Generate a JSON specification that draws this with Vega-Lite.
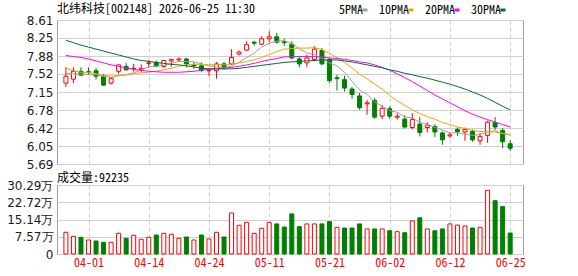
{
"$schema":"https://vega.github.io/schema/vega-lite/v6.json",
"background":"white",
"padding":{"left":0,"top":2,"right":0,"bottom":0},
"spacing":0,
"config":{
 "view":{"stroke":"#a0a0a0","strokeWidth":1},
 "axis":{"domain":false,"ticks":false,"gridColor":"#d0d0d0","gridWidth":1,"labelFont":"DejaVu Sans","labelFontSize":12,"labelColor":"#1a1a1a","title":null,"labelPadding":4,"labelOverlap":false},
 "title":{"font":"Noto Sans Mono CJK SC, Noto Sans CJK SC","fontSize":12,"fontWeight":"normal","color":"#000","anchor":"start","frame":"group"}
},
"datasets":{"k":[
{"i":0,"d":"03-27","o":7.33,"h":7.65,"l":7.25,"c":7.47,"v":9.53,"dir":"up","vdir":"up","ma5":7.53,"ma10":7.64,"ma20":7.89,"ma30":8.20},
{"i":1,"d":"03-30","o":7.41,"h":7.65,"l":7.33,"c":7.57,"v":7.77,"dir":"up","vdir":"up","ma5":7.52,"ma10":7.58,"ma20":7.87,"ma30":8.15},
{"i":2,"d":"03-31","o":7.57,"h":7.65,"l":7.47,"c":7.49,"v":7.33,"dir":"down","vdir":"down","ma5":7.51,"ma10":7.55,"ma20":7.85,"ma30":8.10},
{"i":3,"d":"04-01","o":7.56,"h":7.65,"l":7.50,"c":7.55,"v":6.15,"dir":"down","vdir":"up","ma5":7.50,"ma10":7.54,"ma20":7.82,"ma30":8.06},
{"i":4,"d":"04-02","o":7.58,"h":7.64,"l":7.40,"c":7.47,"v":5.71,"dir":"down","vdir":"down","ma5":7.50,"ma10":7.52,"ma20":7.78,"ma30":8.02},
{"i":5,"d":"04-03","o":7.47,"h":7.52,"l":7.27,"c":7.29,"v":5.13,"dir":"down","vdir":"down","ma5":7.47,"ma10":7.49,"ma20":7.74,"ma30":7.98},
{"i":6,"d":"04-07","o":7.33,"h":7.45,"l":7.30,"c":7.42,"v":5.13,"dir":"up","vdir":"up","ma5":7.44,"ma10":7.47,"ma20":7.70,"ma30":7.94},
{"i":7,"d":"04-08","o":7.57,"h":7.71,"l":7.52,"c":7.70,"v":9.09,"dir":"up","vdir":"up","ma5":7.48,"ma10":7.48,"ma20":7.67,"ma30":7.90},
{"i":8,"d":"04-09","o":7.67,"h":7.74,"l":7.58,"c":7.60,"v":6.89,"dir":"down","vdir":"down","ma5":7.50,"ma10":7.50,"ma20":7.64,"ma30":7.86},
{"i":9,"d":"04-10","o":7.62,"h":7.72,"l":7.56,"c":7.63,"v":8.2,"dir":"up","vdir":"up","ma5":7.54,"ma10":7.52,"ma20":7.61,"ma30":7.82},
{"i":10,"d":"04-13","o":7.61,"h":7.71,"l":7.54,"c":7.63,"v":6.45,"dir":"up","vdir":"up","ma5":7.60,"ma10":7.54,"ma20":7.59,"ma30":7.79},
{"i":11,"d":"04-14","o":7.73,"h":7.80,"l":7.64,"c":7.74,"v":7.33,"dir":"up","vdir":"up","ma5":7.66,"ma10":7.55,"ma20":7.57,"ma30":7.77},
{"i":12,"d":"04-15","o":7.75,"h":7.79,"l":7.65,"c":7.68,"v":8.34,"dir":"down","vdir":"down","ma5":7.67,"ma10":7.57,"ma20":7.56,"ma30":7.75},
{"i":13,"d":"04-16","o":7.67,"h":7.80,"l":7.64,"c":7.79,"v":9.09,"dir":"up","vdir":"up","ma5":7.69,"ma10":7.60,"ma20":7.55,"ma30":7.73},
{"i":14,"d":"04-17","o":7.78,"h":7.81,"l":7.66,"c":7.81,"v":8.65,"dir":"up","vdir":"up","ma5":7.73,"ma10":7.63,"ma20":7.55,"ma30":7.71},
{"i":15,"d":"04-20","o":7.80,"h":7.85,"l":7.76,"c":7.82,"v":6.89,"dir":"up","vdir":"up","ma5":7.77,"ma10":7.67,"ma20":7.55,"ma30":7.70},
{"i":16,"d":"04-21","o":7.82,"h":7.84,"l":7.65,"c":7.72,"v":7.46,"dir":"down","vdir":"down","ma5":7.77,"ma10":7.70,"ma20":7.56,"ma30":7.68},
{"i":17,"d":"04-22","o":7.70,"h":7.76,"l":7.62,"c":7.68,"v":6.15,"dir":"down","vdir":"up","ma5":7.76,"ma10":7.71,"ma20":7.57,"ma30":7.66},
{"i":18,"d":"04-23","o":7.68,"h":7.75,"l":7.55,"c":7.59,"v":8.34,"dir":"down","vdir":"down","ma5":7.72,"ma10":7.71,"ma20":7.59,"ma30":7.63},
{"i":19,"d":"04-24","o":7.58,"h":7.64,"l":7.47,"c":7.59,"v":6.59,"dir":"up","vdir":"up","ma5":7.68,"ma10":7.70,"ma20":7.61,"ma30":7.62},
{"i":20,"d":"04-27","o":7.58,"h":7.76,"l":7.42,"c":7.72,"v":9.53,"dir":"up","vdir":"up","ma5":7.66,"ma10":7.71,"ma20":7.62,"ma30":7.62},
{"i":21,"d":"04-28","o":7.72,"h":7.76,"l":7.60,"c":7.64,"v":7.46,"dir":"down","vdir":"down","ma5":7.64,"ma10":7.70,"ma20":7.63,"ma30":7.62},
{"i":22,"d":"04-29","o":7.72,"h":8.02,"l":7.70,"c":7.85,"v":18.0,"dir":"up","vdir":"up","ma5":7.68,"ma10":7.72,"ma20":7.65,"ma30":7.62},
{"i":23,"d":"04-30","o":7.92,"h":7.99,"l":7.89,"c":7.96,"v":12.6,"dir":"up","vdir":"up","ma5":7.75,"ma10":7.74,"ma20":7.67,"ma30":7.63},
{"i":24,"d":"05-06","o":8.00,"h":8.18,"l":7.98,"c":8.11,"v":13.9,"dir":"up","vdir":"up","ma5":7.85,"ma10":7.77,"ma20":7.70,"ma30":7.65},
{"i":25,"d":"05-07","o":8.16,"h":8.19,"l":8.09,"c":8.14,"v":9.09,"dir":"down","vdir":"up","ma5":7.94,"ma10":7.80,"ma20":7.73,"ma30":7.67},
{"i":26,"d":"05-08","o":8.12,"h":8.28,"l":8.10,"c":8.23,"v":11.3,"dir":"up","vdir":"up","ma5":8.06,"ma10":7.85,"ma20":7.77,"ma30":7.69},
{"i":27,"d":"05-11","o":8.23,"h":8.38,"l":8.16,"c":8.27,"v":13.9,"dir":"up","vdir":"up","ma5":8.14,"ma10":7.91,"ma20":7.80,"ma30":7.71},
{"i":28,"d":"05-12","o":8.27,"h":8.35,"l":8.13,"c":8.16,"v":13.2,"dir":"down","vdir":"down","ma5":8.18,"ma10":7.97,"ma20":7.83,"ma30":7.73},
{"i":29,"d":"05-13","o":8.17,"h":8.23,"l":8.08,"c":8.15,"v":11.85,"dir":"down","vdir":"down","ma5":8.19,"ma10":8.02,"ma20":7.86,"ma30":7.75},
{"i":30,"d":"05-14","o":8.12,"h":8.18,"l":7.81,"c":7.84,"v":17.6,"dir":"down","vdir":"down","ma5":8.13,"ma10":8.03,"ma20":7.87,"ma30":7.76},
{"i":31,"d":"05-15","o":7.82,"h":7.87,"l":7.65,"c":7.72,"v":12.0,"dir":"down","vdir":"down","ma5":8.03,"ma10":8.04,"ma20":7.87,"ma30":7.77},
{"i":32,"d":"05-18","o":7.74,"h":7.91,"l":7.65,"c":7.84,"v":13.2,"dir":"up","vdir":"up","ma5":7.94,"ma10":8.04,"ma20":7.87,"ma30":7.78},
{"i":33,"d":"05-19","o":7.81,"h":8.08,"l":7.77,"c":8.02,"v":13.2,"dir":"up","vdir":"up","ma5":7.91,"ma10":8.05,"ma20":7.87,"ma30":7.79},
{"i":34,"d":"05-20","o":7.99,"h":8.04,"l":7.69,"c":7.72,"v":13.2,"dir":"down","vdir":"down","ma5":7.83,"ma10":8.01,"ma20":7.86,"ma30":7.80},
{"i":35,"d":"05-21","o":7.81,"h":7.84,"l":7.33,"c":7.38,"v":14.2,"dir":"down","vdir":"down","ma5":7.74,"ma10":7.93,"ma20":7.84,"ma30":7.80},
{"i":36,"d":"05-22","o":7.44,"h":7.50,"l":7.18,"c":7.42,"v":11.7,"dir":"down","vdir":"up","ma5":7.68,"ma10":7.85,"ma20":7.83,"ma30":7.80},
{"i":37,"d":"05-25","o":7.40,"h":7.48,"l":7.16,"c":7.23,"v":11.4,"dir":"down","vdir":"down","ma5":7.55,"ma10":7.75,"ma20":7.81,"ma30":7.78},
{"i":38,"d":"05-26","o":7.21,"h":7.25,"l":7.01,"c":7.10,"v":11.4,"dir":"down","vdir":"down","ma5":7.37,"ma10":7.64,"ma20":7.79,"ma30":7.76},
{"i":39,"d":"05-27","o":7.07,"h":7.13,"l":6.79,"c":6.83,"v":13.2,"dir":"down","vdir":"down","ma5":7.19,"ma10":7.51,"ma20":7.76,"ma30":7.73},
{"i":40,"d":"05-28","o":6.91,"h":6.99,"l":6.69,"c":6.93,"v":11.0,"dir":"up","vdir":"up","ma5":7.10,"ma10":7.42,"ma20":7.74,"ma30":7.70},
{"i":41,"d":"05-29","o":6.98,"h":7.03,"l":6.61,"c":6.64,"v":11.0,"dir":"down","vdir":"down","ma5":6.95,"ma10":7.31,"ma20":7.70,"ma30":7.67},
{"i":42,"d":"06-01","o":6.66,"h":6.89,"l":6.60,"c":6.82,"v":11.0,"dir":"up","vdir":"up","ma5":6.86,"ma10":7.21,"ma20":7.65,"ma30":7.64},
{"i":43,"d":"06-02","o":6.81,"h":6.86,"l":6.61,"c":6.66,"v":10.2,"dir":"down","vdir":"down","ma5":6.77,"ma10":7.08,"ma20":7.59,"ma30":7.60},
{"i":44,"d":"06-03","o":6.64,"h":6.72,"l":6.59,"c":6.66,"v":9.8,"dir":"up","vdir":"up","ma5":6.74,"ma10":6.97,"ma20":7.52,"ma30":7.57},
{"i":45,"d":"06-04","o":6.60,"h":6.68,"l":6.41,"c":6.44,"v":9.35,"dir":"down","vdir":"down","ma5":6.64,"ma10":6.88,"ma20":7.44,"ma30":7.53},
{"i":46,"d":"06-05","o":6.43,"h":6.72,"l":6.39,"c":6.59,"v":14.5,"dir":"up","vdir":"up","ma5":6.63,"ma10":6.79,"ma20":7.36,"ma30":7.50},
{"i":47,"d":"06-08","o":6.50,"h":6.64,"l":6.25,"c":6.33,"v":15.9,"dir":"down","vdir":"down","ma5":6.53,"ma10":6.71,"ma20":7.27,"ma30":7.46},
{"i":48,"d":"06-09","o":6.43,"h":6.54,"l":6.34,"c":6.48,"v":11.0,"dir":"up","vdir":"up","ma5":6.50,"ma10":6.65,"ma20":7.18,"ma30":7.43},
{"i":49,"d":"06-10","o":6.45,"h":6.50,"l":6.24,"c":6.34,"v":10.2,"dir":"down","vdir":"down","ma5":6.43,"ma10":6.60,"ma20":7.09,"ma30":7.39},
{"i":50,"d":"06-11","o":6.32,"h":6.35,"l":6.08,"c":6.18,"v":11.0,"dir":"down","vdir":"down","ma5":6.38,"ma10":6.53,"ma20":7.01,"ma30":7.35},
{"i":51,"d":"06-12","o":6.26,"h":6.33,"l":6.22,"c":6.28,"v":13.2,"dir":"up","vdir":"up","ma5":6.32,"ma10":6.49,"ma20":6.93,"ma30":7.31},
{"i":52,"d":"06-15","o":6.39,"h":6.43,"l":6.26,"c":6.34,"v":12.7,"dir":"down","vdir":"up","ma5":6.32,"ma10":6.44,"ma20":6.85,"ma30":7.26},
{"i":53,"d":"06-16","o":6.34,"h":6.43,"l":6.16,"c":6.39,"v":12.3,"dir":"up","vdir":"up","ma5":6.30,"ma10":6.41,"ma20":6.77,"ma30":7.21},
{"i":54,"d":"06-17","o":6.35,"h":6.39,"l":6.14,"c":6.18,"v":11.4,"dir":"down","vdir":"down","ma5":6.27,"ma10":6.37,"ma20":6.70,"ma30":7.15},
{"i":55,"d":"06-18","o":6.16,"h":6.32,"l":6.08,"c":6.25,"v":11.7,"dir":"up","vdir":"up","ma5":6.29,"ma10":6.35,"ma20":6.64,"ma30":7.09},
{"i":56,"d":"06-22","o":6.27,"h":6.57,"l":6.12,"c":6.54,"v":27.96,"dir":"up","vdir":"up","ma5":6.34,"ma10":6.34,"ma20":6.59,"ma30":7.02},
{"i":57,"d":"06-23","o":6.53,"h":6.64,"l":6.38,"c":6.44,"v":23.4,"dir":"down","vdir":"down","ma5":6.36,"ma10":6.34,"ma20":6.54,"ma30":6.94},
{"i":58,"d":"06-24","o":6.37,"h":6.42,"l":6.01,"c":6.14,"v":20.8,"dir":"down","vdir":"down","ma5":6.31,"ma10":6.31,"ma20":6.49,"ma30":6.86},
{"i":59,"d":"06-25","o":6.10,"h":6.17,"l":5.96,"c":6.01,"v":9.22,"dir":"down","vdir":"down","ma5":6.28,"ma10":6.28,"ma20":6.44,"ma30":6.79}
]},
"vconcat":[
{
 "width":466,"height":144,
 "data":{"name":"k"},
 "title":{"text":"北纬科技[002148] 2026-06-25 11:30","offset":-2},
 "encoding":{"x":{"field":"i","type":"quantitative","scale":{"domain":[-0.52,60.04],"nice":false,"zero":false},
   "axis":{"values":[3,11,19,27,35,43,51,59],"tickCount":20,"labels":false,"grid":true,"gridDash":[4,3]}}},
 "layer":[
  {"mark":{"type":"rule","strokeWidth":1},
   "encoding":{"y":{"field":"l","type":"quantitative","scale":{"domain":[5.69,8.61],"nice":false,"zero":false},
     "axis":{"values":[5.69,6.05,6.42,6.78,7.15,7.52,7.88,8.25,8.61],"tickCount":20,"labelOverlap":false,"format":".2f","grid":true,"minExtent":56,"maxExtent":56}},
    "y2":{"field":"h"},
    "color":{"condition":{"test":"datum.dir == 'up'","value":"#ff0000"},"value":"#008000"}}},
  {"mark":{"type":"bar","width":4,"strokeWidth":1},
   "encoding":{"y":{"field":"o","type":"quantitative","scale":{"domain":[5.69,8.61],"nice":false,"zero":false}},
    "y2":{"field":"c"},
    "fill":{"condition":{"test":"datum.dir == 'up'","value":"#ffffff"},"value":"#008000"},
    "stroke":{"condition":{"test":"datum.dir == 'up'","value":"#ff0000"},"value":"#008000"}}},
  {"transform":[{"fold":["ma5","ma10","ma20","ma30"],"as":["ma","val"]}],
   "mark":{"type":"line","strokeWidth":1},
   "encoding":{"y":{"field":"val","type":"quantitative","scale":{"domain":[5.69,8.61],"nice":false,"zero":false}},
    "color":{"field":"ma","type":"nominal","scale":{"domain":["ma5","ma10","ma20","ma30"],"range":["#a0a0a0","#f5a300","#ff00ff","#006e3a"]},
     "legend":{"orient":"none","legendX":302,"legendY":-16,"direction":"horizontal","title":null,"symbolType":"M-1,0H1","symbolSize":25,"symbolStrokeWidth":3,"labelAlign":"right","labelOffset":-8,"columnPadding":4,"labelFont":"Noto Sans Mono CJK SC, DejaVu Sans Mono","labelFontSize":12,"labelColor":"#000","labelExpr":"replace(datum.label,'ma','') + 'PMA'"}}}}
 ]
},
{
 "width":466,"height":69,
 "data":{"name":"k"},
 "title":{"text":"成交量:92235","offset":-6},
 "mark":{"type":"bar","width":4,"strokeWidth":1},
 "encoding":{
  "x":{"field":"i","type":"quantitative","scale":{"domain":[-0.52,60.04],"nice":false,"zero":false},
   "axis":{"values":[3,11,19,27,35,43,51,59],"tickCount":20,"grid":true,"gridDash":[4,3],"labelFlush":false,"labelColor":"#ff0000","labelFont":"Noto Sans Mono CJK SC, DejaVu Sans Mono","labelFontSize":12,"labelPadding":3,
    "labelExpr":"['04-01','04-14','04-24','05-11','05-21','06-02','06-12','06-25'][(datum.value-3)/8]"}},
  "y":{"field":"v","type":"quantitative","scale":{"domain":[0,30.29],"nice":false,"zero":true},
   "axis":{"values":[0,7.57,15.14,22.72,30.29],"tickCount":20,"grid":true,"minExtent":56,"maxExtent":56,
    "labelExpr":"datum.value == 0 ? '0' : format(datum.value,'.2f') + '万'"}},
  "fill":{"condition":{"test":"datum.vdir == 'up'","value":"#ffffff"},"value":"#008000"},
  "stroke":{"condition":{"test":"datum.vdir == 'up'","value":"#ff0000"},"value":"#008000"}
 }
}
]
}
